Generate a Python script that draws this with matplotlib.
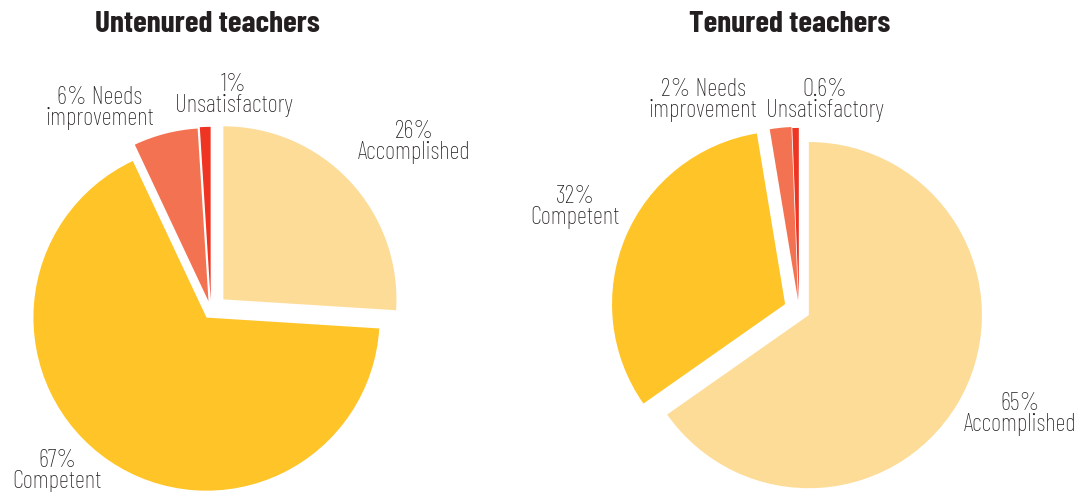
import matplotlib
matplotlib.use('Agg')
import matplotlib.pyplot as plt

categories = ['Accomplished', 'Competent', 'Needs improvement', 'Unsatisfactory']
untenured = [26, 67, 6, 1]
tenured = [65, 32, 2, 0.6]
untenured_labels = ['26%\nAccomplished', '67%\nCompetent', '6% Needs\nimprovement', '1%\nUnsatisfactory']
tenured_labels = ['65%\nAccomplished', '32%\nCompetent', '2% Needs\nimprovement', '0.6%\nUnsatisfactory']
titles = ['Untenured teachers', 'Tenured teachers']

colors = ['#FDDC98', '#FEC428', '#F37251', '#EE3524']
txt = '#231F20'
fam = ['Barlow Condensed', 'Liberation Sans', 'DejaVu Sans']

W, H = 1084, 492
fig = plt.figure(figsize=(W / 100, H / 100), dpi=100)

def px(x, y):
    # pixel (from top-left) -> figure fraction
    return x / W, 1 - y / H

def pie_axes(cx, cy, side=450):
    return fig.add_axes([(cx - side / 2) / W, (H - cy - side / 2) / H, side / W, side / H])

# left pie
ax1 = pie_axes(211, 311)
ax1.pie(untenured, colors=colors, startangle=90, counterclock=False,
        explode=[0.098, 0.046, 0.058, 0.064], wedgeprops=dict(linewidth=0))
ax1.set_xlim(-1.3, 1.3)
ax1.set_ylim(-1.3, 1.3)
ax1.set_aspect('equal')
ax1.axis('off')

# right pie
ax2 = pie_axes(799, 310)
ax2.pie(tenured, colors=colors, startangle=90, counterclock=False,
        explode=[0.064, 0.087, 0.058, 0.052], wedgeprops=dict(linewidth=0))
ax2.set_xlim(-1.3, 1.3)
ax2.set_ylim(-1.3, 1.3)
ax2.set_aspect('equal')
ax2.axis('off')

# titles
for t, (x, y) in zip(titles, [(207, 25), (790, 25)]):
    fig.text(*px(x, y), t, ha='center', va='center', fontsize=22.5,
             fontweight='bold', color=txt, family=fam)

# slice labels
left_pos = [(414, 142), (57, 471), (100, 108), (234, 95)]
right_pos = [(1020, 414), (575, 207), (703, 100), (825, 100)]
for labels, pos in [(untenured_labels, left_pos), (tenured_labels, right_pos)]:
    for lab, (x, y) in zip(labels, pos):
        fig.text(*px(x, y), lab, ha='center', va='center', fontsize=18,
                 fontweight='light', color=txt, family=fam, linespacing=0.9)

fig.savefig('out.png', dpi=100, facecolor='white')
